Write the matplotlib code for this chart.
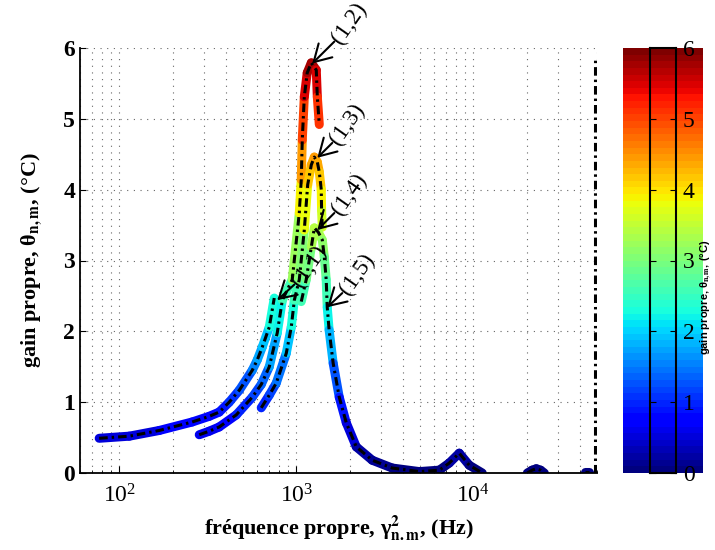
import numpy as np
import matplotlib.pyplot as plt
from matplotlib.collections import LineCollection

plt.rcParams['font.family'] = ['Liberation Serif', 'DejaVu Serif']
plt.rcParams['mathtext.fontset'] = 'stix'

# mode (1,1) branch
freq_11 = [77, 114, 168, 258, 322, 367, 418, 477, 564, 603, 643, 704, 751]
gain_11 = [0.49, 0.52, 0.60, 0.72, 0.80, 0.86, 1.00, 1.17, 1.45, 1.60, 1.78, 2.06, 2.47]

# mode (1,2) branch
freq_12 = [283, 322, 367, 458, 564, 634, 704, 781, 834, 949, 1040, 1067, 1081, 1110, 1153, 1216, 1297, 1315, 1349]
gain_12 = [0.54, 0.59, 0.65, 0.82, 1.07, 1.25, 1.50, 1.98, 2.44, 2.73, 3.67, 4.14, 4.70, 5.31, 5.65, 5.79, 5.69, 5.31, 4.92]

# mode (1,3) branch
freq_13 = [634, 704, 771, 878, 937, 975, 1040, 1110, 1160, 1216, 1265, 1315, 1349, 1384, 1390, 1403]
gain_13 = [0.92, 1.10, 1.27, 1.69, 2.06, 2.44, 2.73, 3.43, 4.07, 4.35, 4.46, 4.39, 4.25, 4.00, 3.71, 3.47]

# mode (1,4) branch and high-frequency tail
freq_14 = [1067, 1138, 1216, 1265, 1331, 1403, 1440, 1476, 1496, 1533, 1616, 1749, 1916, 2182,
           2688, 3484, 4951, 6430, 7310, 8330, 9490, 11240]
gain_14 = [2.42, 2.73, 3.19, 3.46, 3.40, 3.29, 3.05, 2.73, 2.34, 2.02, 1.55, 1.07, 0.71, 0.37,
           0.18, 0.07, 0.02, 0.04, 0.14, 0.28, 0.11, 0.0]

# small peaks at high frequency
freq_hi1 = [20200, 21500, 22700, 24000, 25200]
gain_hi1 = [0.0, 0.04, 0.06, 0.04, 0.0]
freq_hi2 = [43000, 45000]
gain_hi2 = [0.02, 0.02]

# vertical marker
freq_vline = [49000, 49000]
gain_vline = [0.0, 5.85]

curves = [(freq_11, gain_11), (freq_12, gain_12), (freq_13, gain_13),
          (freq_14, gain_14), (freq_hi1, gain_hi1), (freq_hi2, gain_hi2)]

# annotations: label, arrow head, arrow tail
labels = ['(1,2)', '(1,3)', '(1,4)', '(1,5)', '(1,1)']
heads = [(1230, 5.78), (1315, 4.45), (1315, 3.43), (1496, 2.34), (781, 2.44)]
tails = [(1640, 6.09), (1597, 4.66), (1640, 3.67), (1819, 2.54), (975, 2.66)]

W, H = 715, 550
fig = plt.figure(figsize=(W / 100, H / 100), dpi=100)
ax = fig.add_axes([80 / W, 77 / H, 517 / W, 425 / H])
ax.set_xscale('log')

cmap = plt.get_cmap('jet', 64)
norm = plt.Normalize(0, 6)
dashdot = (0, (2.8, 1.3, 0.8, 1.3))

for f, g in curves:
    pts = np.column_stack([f, g])
    segs = np.stack([pts[:-1], pts[1:]], axis=1)
    lc = LineCollection(segs, cmap=cmap, norm=norm, linewidths=6.5, capstyle='round')
    lc.set_array((np.array(g[:-1]) + np.array(g[1:])) / 2)
    ax.add_collection(lc)
    ax.plot(f, g, color='black', lw=2.2, ls=dashdot)

ax.plot(freq_vline, gain_vline, color='black', lw=2.2, ls=dashdot)

for txt, hd, tl in zip(labels, heads, tails):
    ax.annotate('', xy=hd, xytext=tl,
                arrowprops=dict(arrowstyle='->,head_length=0.6,head_width=0.35',
                                color='black', lw=1.5, shrinkA=0, shrinkB=0,
                                mutation_scale=20))
    ax.text(tl[0] * 1.03, tl[1], txt, rotation=55, rotation_mode='anchor',
            ha='left', va='center', fontsize=17)

ax.set_xlim(60, 50000)
ax.set_ylim(0, 6)
ax.set_yticks(range(7))
ax.spines['top'].set_visible(False)
ax.spines['right'].set_visible(False)
ax.spines['left'].set_linewidth(1.3)
ax.spines['bottom'].set_linewidth(1.3)
ax.tick_params(which='both', direction='in', top=False, right=False)
ax.tick_params(axis='x', which='major', labelsize=17, pad=8, length=5)
ax.tick_params(axis='y', labelsize=17, length=4)
for lab in ax.get_yticklabels():
    lab.set_fontweight('bold')
grid_ls = (0, (1, 5))
ax.grid(True, which='both', axis='x', ls=grid_ls, color='0.4', lw=0.8)
ax.grid(True, which='major', axis='y', ls=grid_ls, color='0.4', lw=0.8)
ax.set_axisbelow(True)

ax.set_xlabel('fréquence propre, γ$^{\\mathbf{2}}_{\\mathbf{n.m}}$, (Hz)', fontsize=16, fontweight='bold')
ax.set_ylabel('gain propre, θ$_{\\mathbf{n,m}}$, (°C)', fontsize=16, fontweight='bold')
ax.xaxis.set_label_coords(0.5, -0.095)
ax.yaxis.set_label_coords(-0.07, 0.5)

# colour bar
cimg = fig.add_axes([623 / W, 77 / H, 80 / W, 425 / H])
cimg.imshow(np.linspace(0, 6, 64)[:, None], aspect='auto', cmap=cmap, norm=norm,
            origin='lower', extent=(0, 1, 0, 6))
cimg.axis('off')

cax = fig.add_axes([650 / W, 77 / H, 26 / W, 425 / H])
cax.patch.set_visible(False)
cax.set_ylim(0, 6)
cax.set_xticks([])
cax.set_yticks(range(7))
for s in cax.spines.values():
    s.set_linewidth(1.5)
cax.tick_params(axis='y', direction='in', left=True, right=True,
                labelleft=False, labelright=True, labelsize=17, pad=5, length=4)

fig.text(706 / W, 1 - 297 / H, 'gain propre, θ$_{\\mathbf{n,m}}$, (°C)', rotation=90,
         ha='center', va='center', fontsize=8, fontweight='bold',
         family=['Liberation Sans', 'DejaVu Sans'])

fig.savefig('out.png', dpi=100)
